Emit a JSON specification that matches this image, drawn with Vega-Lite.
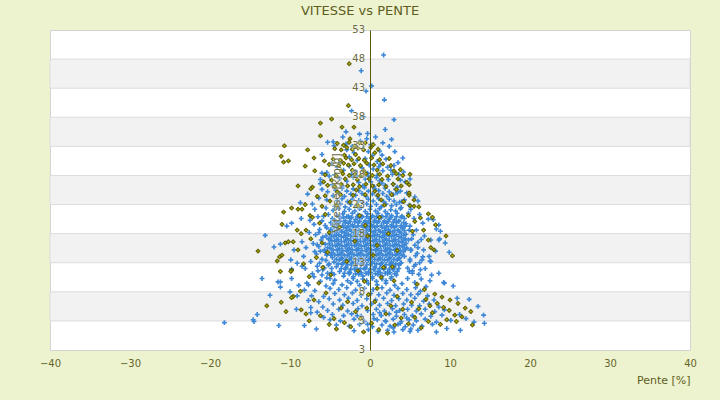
{
  "$schema": "https://vega.github.io/schema/vega-lite/v6.json",
  "width": 640,
  "height": 320,
  "autosize": {"type": "none"},
  "padding": {"left": 50, "top": 30, "right": 30, "bottom": 50},
  "background": "#edf2cf",
  "title": {
    "text": "VITESSE vs PENTE",
    "fontSize": 13,
    "fontWeight": "normal",
    "color": "#5e5e1e",
    "offset": 7,
    "dx": -10
  },
  "datasets": {
    "bandes": [
      {"lo": 3, "hi": 8}, {"lo": 13, "hi": 18}, {"lo": 23, "hi": 28}, {"lo": 33, "hi": 38}, {"lo": 43, "hi": 48}
    ],
    "graduations": [
      {"valeur": -2, "texte": "3"}, {"valeur": 3, "texte": "3"}, {"valeur": 8, "texte": "8"}, {"valeur": 13, "texte": "13"},
      {"valeur": 18, "texte": "18"}, {"valeur": 23, "texte": "23"}, {"valeur": 28, "texte": "28"}, {"valeur": 33, "texte": "33"},
      {"valeur": 38, "texte": "38"}, {"valeur": 43, "texte": "43"}, {"valeur": 48, "texte": "48"}, {"valeur": 53, "texte": "53"}
    ],
    "titreY": [
      {"titre": "Vitesse [km/h]"}
    ],
    "bleu": [
      {"pente":1.7,"vitesse":48.7},{"pente":-1.1,"vitesse":46.0},{"pente":0.2,"vitesse":43.4},{"pente":-0.5,"vitesse":42.5},{"pente":1.8,"vitesse":41.0},{"pente":-2.3,"vitesse":39.1},{"pente":3.0,"vitesse":37.6},{"pente":-0.8,"vitesse":38.1},
      {"pente":-3.0,"vitesse":35.5},{"pente":-1.3,"vitesse":35.1},{"pente":-0.3,"vitesse":35.2},{"pente":0.7,"vitesse":34.6},{"pente":-0.4,"vitesse":34.3},{"pente":1.9,"vitesse":35.9},{"pente":-5.3,"vitesse":33.7},{"pente":-4.6,"vitesse":33.8},{"pente":-4.5,"vitesse":33.1},{"pente":-3.0,"vitesse":33.4},{"pente":-2.2,"vitesse":33.0},{"pente":-2.0,"vitesse":31.9},{"pente":1.2,"vitesse":32.2},{"pente":1.5,"vitesse":31.5},{"pente":0.3,"vitesse":31.4},{"pente":-0.9,"vitesse":32.6},{"pente":2.4,"vitesse":33.0},{"pente":3.1,"vitesse":32.1},{"pente":-1.6,"vitesse":30.6},{"pente":-0.6,"vitesse":30.9},{"pente":0.9,"vitesse":30.4},{"pente":2.0,"vitesse":30.8},{"pente":-3.7,"vitesse":30.3},{"pente":-4.8,"vitesse":30.0},{"pente":-2.6,"vitesse":31.2},{"pente":3.5,"vitesse":30.2},{"pente":-1.2,"vitesse":33.9},{"pente":0.1,"vitesse":33.3},{"pente":1.6,"vitesse":33.6},{"pente":-2.9,"vitesse":32.4},{"pente":2.7,"vitesse":34.2},{"pente":-0.2,"vitesse":32.1},{"pente":-6.0,"vitesse":31.6},{"pente":4.1,"vitesse":31.0},{"pente":-3.4,"vitesse":34.6},
      {"pente":-5.4,"vitesse":28.5},{"pente":-6.0,"vitesse":28.4},{"pente":-6.2,"vitesse":27.3},{"pente":-6.2,"vitesse":26.6},{"pente":2.8,"vitesse":28.2},{"pente":3.6,"vitesse":28.2},{"pente":1.6,"vitesse":28.8},{"pente":1.3,"vitesse":29.9},{"pente":3.8,"vitesse":27.2},{"pente":-4.1,"vitesse":29.4},{"pente":-3.3,"vitesse":28.9},{"pente":-2.6,"vitesse":29.6},{"pente":-1.8,"vitesse":28.7},{"pente":-1.0,"vitesse":29.3},{"pente":-0.3,"vitesse":28.4},{"pente":0.4,"vitesse":29.1},{"pente":0.9,"vitesse":28.0},{"pente":2.2,"vitesse":29.4},{"pente":3.0,"vitesse":29.7},{"pente":-3.8,"vitesse":27.5},{"pente":-2.9,"vitesse":27.0},{"pente":-2.1,"vitesse":27.7},{"pente":-1.4,"vitesse":26.8},{"pente":-0.6,"vitesse":27.4},{"pente":0.1,"vitesse":26.9},{"pente":0.8,"vitesse":27.6},{"pente":1.5,"vitesse":26.7},{"pente":2.3,"vitesse":27.3},{"pente":2.9,"vitesse":26.5},{"pente":4.4,"vitesse":26.9},{"pente":-4.7,"vitesse":26.4},{"pente":-5.1,"vitesse":27.9},{"pente":-3.5,"vitesse":26.2},{"pente":-0.9,"vitesse":26.2},{"pente":0.5,"vitesse":26.1},{"pente":1.9,"vitesse":26.3},{"pente":3.4,"vitesse":26.0},{"pente":-2.3,"vitesse":28.2},{"pente":-0.1,"vitesse":29.8},{"pente":1.1,"vitesse":29.5},{"pente":4.2,"vitesse":28.6},{"pente":-4.4,"vitesse":28.1},{"pente":-1.6,"vitesse":27.9},{"pente":2.6,"vitesse":28.9},{"pente":5.0,"vitesse":27.4},{"pente":-0.2,"vitesse":27.9},{"pente":1.2,"vitesse":27.1},
      {"pente":-7.8,"vitesse":24.8},{"pente":-8.7,"vitesse":23.3},{"pente":-6.9,"vitesse":22.2},{"pente":-5.5,"vitesse":22.4},{"pente":-5.4,"vitesse":23.8},{"pente":-5.3,"vitesse":25.2},{"pente":-6.4,"vitesse":24.1},{"pente":4.6,"vitesse":25.0},{"pente":4.0,"vitesse":23.5},{"pente":5.1,"vitesse":22.2},{"pente":5.6,"vitesse":24.3},{"pente":4.9,"vitesse":22.9},{"pente":6.0,"vitesse":23.6},{"pente":-7.2,"vitesse":23.1},{"pente":-6.0,"vitesse":25.6},
      {"pente":-4.3,"vitesse":25.5},{"pente":-3.5,"vitesse":25.8},{"pente":-2.9,"vitesse":25.3},{"pente":-2.1,"vitesse":25.7},{"pente":-1.4,"vitesse":25.4},{"pente":-0.7,"vitesse":25.9},{"pente":-0.2,"vitesse":25.3},{"pente":0.6,"vitesse":25.7},{"pente":1.1,"vitesse":25.4},{"pente":1.9,"vitesse":25.8},{"pente":2.4,"vitesse":25.2},{"pente":3.2,"vitesse":25.6},{"pente":3.8,"vitesse":25.3},
      {"pente":-4.6,"vitesse":24.5},{"pente":-3.8,"vitesse":24.9},{"pente":-3.2,"vitesse":24.4},{"pente":-2.4,"vitesse":24.8},{"pente":-1.8,"vitesse":24.6},{"pente":-1.0,"vitesse":24.9},{"pente":-0.5,"vitesse":24.4},{"pente":0.3,"vitesse":24.8},{"pente":0.9,"vitesse":24.5},{"pente":1.6,"vitesse":24.9},{"pente":2.1,"vitesse":24.4},{"pente":2.9,"vitesse":24.7},{"pente":3.4,"vitesse":25.0},
      {"pente":-4.1,"vitesse":23.7},{"pente":-3.5,"vitesse":24.0},{"pente":-2.8,"vitesse":23.5},{"pente":-2.2,"vitesse":23.9},{"pente":-1.4,"vitesse":23.7},{"pente":-0.9,"vitesse":23.4},{"pente":-0.2,"vitesse":23.9},{"pente":0.4,"vitesse":23.6},{"pente":1.1,"vitesse":24.0},{"pente":1.7,"vitesse":23.5},{"pente":2.4,"vitesse":23.9},{"pente":3.0,"vitesse":23.6},{"pente":3.7,"vitesse":23.4},{"pente":4.3,"vitesse":23.8},
      {"pente":-4.4,"vitesse":22.7},{"pente":-3.7,"vitesse":23.1},{"pente":-3.1,"vitesse":22.6},{"pente":-2.4,"vitesse":23.0},{"pente":-1.7,"vitesse":22.8},{"pente":-1.1,"vitesse":22.5},{"pente":-0.4,"vitesse":23.1},{"pente":0.1,"vitesse":22.7},{"pente":0.8,"vitesse":23.0},{"pente":1.4,"vitesse":22.6},{"pente":2.0,"vitesse":23.1},{"pente":2.7,"vitesse":22.8},{"pente":3.3,"vitesse":23.0},{"pente":3.9,"vitesse":22.5},
      {"pente":-4.6,"vitesse":22.0},{"pente":-3.9,"vitesse":22.3},{"pente":-3.2,"vitesse":21.8},{"pente":-2.6,"vitesse":22.2},{"pente":-1.9,"vitesse":21.9},{"pente":-1.3,"vitesse":22.3},{"pente":-0.6,"vitesse":21.8},{"pente":0.0,"vitesse":22.2},{"pente":0.7,"vitesse":21.9},{"pente":1.2,"vitesse":22.3},{"pente":1.9,"vitesse":21.8},{"pente":2.6,"vitesse":22.1},{"pente":3.2,"vitesse":21.9},{"pente":3.8,"vitesse":22.3},
      {"pente":-4.1,"vitesse":21.1},{"pente":-3.4,"vitesse":21.4},{"pente":-2.7,"vitesse":21.0},{"pente":-2.2,"vitesse":21.5},{"pente":-1.5,"vitesse":21.2},{"pente":-1.0,"vitesse":21.0},{"pente":-0.3,"vitesse":21.4},{"pente":0.3,"vitesse":21.1},{"pente":1.0,"vitesse":21.5},{"pente":1.5,"vitesse":21.0},{"pente":2.2,"vitesse":21.4},{"pente":2.7,"vitesse":21.1},{"pente":3.4,"vitesse":21.5},{"pente":4.0,"vitesse":21.0},
      {"pente":-3.9,"vitesse":20.9},{"pente":-3.3,"vitesse":20.8},{"pente":-2.9,"vitesse":20.9},{"pente":-2.3,"vitesse":20.8},{"pente":-1.6,"vitesse":20.9},{"pente":-1.0,"vitesse":20.8},{"pente":-0.4,"vitesse":20.9},{"pente":0.2,"vitesse":20.8},{"pente":0.8,"vitesse":20.9},{"pente":1.4,"vitesse":20.8},{"pente":2.0,"vitesse":20.9},{"pente":2.6,"vitesse":20.8},{"pente":3.3,"vitesse":20.9},{"pente":3.9,"vitesse":20.8},
      {"pente":-4.4,"vitesse":20.3},{"pente":-3.7,"vitesse":20.7},{"pente":-3.1,"vitesse":20.2},{"pente":-2.5,"vitesse":20.6},{"pente":-1.8,"vitesse":20.4},{"pente":-1.3,"vitesse":20.7},{"pente":-0.6,"vitesse":20.2},{"pente":-0.1,"vitesse":20.6},{"pente":0.6,"vitesse":20.3},{"pente":1.1,"vitesse":20.7},{"pente":1.8,"vitesse":20.2},{"pente":2.4,"vitesse":20.5},{"pente":3.1,"vitesse":20.4},{"pente":3.6,"vitesse":20.2},{"pente":4.3,"vitesse":20.6},
      {"pente":-4.3,"vitesse":20.0},{"pente":-3.7,"vitesse":20.1},{"pente":-3.1,"vitesse":19.9},{"pente":-2.5,"vitesse":20.1},{"pente":-1.9,"vitesse":20.0},{"pente":-1.3,"vitesse":20.1},{"pente":-0.7,"vitesse":19.9},{"pente":-0.1,"vitesse":20.1},{"pente":0.5,"vitesse":20.0},{"pente":1.1,"vitesse":20.1},{"pente":1.7,"vitesse":19.9},{"pente":2.3,"vitesse":20.1},{"pente":2.9,"vitesse":20.0},{"pente":3.6,"vitesse":20.1},{"pente":4.2,"vitesse":19.9},
      {"pente":-4.7,"vitesse":19.5},{"pente":-4.0,"vitesse":19.9},{"pente":-3.4,"vitesse":19.4},{"pente":-2.7,"vitesse":19.8},{"pente":-2.2,"vitesse":19.5},{"pente":-1.5,"vitesse":19.9},{"pente":-1.0,"vitesse":19.4},{"pente":-0.3,"vitesse":19.8},{"pente":0.2,"vitesse":19.5},{"pente":0.9,"vitesse":19.9},{"pente":1.4,"vitesse":19.4},{"pente":2.1,"vitesse":19.8},{"pente":2.7,"vitesse":19.5},{"pente":3.3,"vitesse":19.9},{"pente":3.9,"vitesse":19.4},{"pente":4.5,"vitesse":19.7},
      {"pente":-4.5,"vitesse":19.2},{"pente":-3.9,"vitesse":19.3},{"pente":-3.3,"vitesse":19.1},{"pente":-2.7,"vitesse":19.3},{"pente":-2.1,"vitesse":19.2},{"pente":-1.5,"vitesse":19.3},{"pente":-0.9,"vitesse":19.1},{"pente":-0.3,"vitesse":19.3},{"pente":0.3,"vitesse":19.2},{"pente":0.9,"vitesse":19.3},{"pente":1.5,"vitesse":19.1},{"pente":2.1,"vitesse":19.3},{"pente":2.7,"vitesse":19.2},{"pente":3.3,"vitesse":19.3},{"pente":3.9,"vitesse":19.1},{"pente":4.4,"vitesse":19.3},
      {"pente":-4.9,"vitesse":18.7},{"pente":-4.2,"vitesse":19.1},{"pente":-3.7,"vitesse":18.6},{"pente":-3.0,"vitesse":19.0},{"pente":-2.5,"vitesse":18.7},{"pente":-1.8,"vitesse":19.1},{"pente":-1.3,"vitesse":18.6},{"pente":-0.6,"vitesse":19.0},{"pente":-0.1,"vitesse":18.7},{"pente":0.6,"vitesse":19.1},{"pente":1.1,"vitesse":18.6},{"pente":1.8,"vitesse":19.0},{"pente":2.3,"vitesse":18.7},{"pente":3.0,"vitesse":19.1},{"pente":3.5,"vitesse":18.6},{"pente":4.1,"vitesse":18.9},
      {"pente":-4.7,"vitesse":18.4},{"pente":-4.1,"vitesse":18.5},{"pente":-3.5,"vitesse":18.3},{"pente":-2.9,"vitesse":18.5},{"pente":-2.3,"vitesse":18.4},{"pente":-1.7,"vitesse":18.5},{"pente":-1.1,"vitesse":18.3},{"pente":-0.5,"vitesse":18.5},{"pente":0.1,"vitesse":18.4},{"pente":0.7,"vitesse":18.5},{"pente":1.3,"vitesse":18.3},{"pente":1.9,"vitesse":18.5},{"pente":2.5,"vitesse":18.4},{"pente":3.1,"vitesse":18.5},{"pente":3.7,"vitesse":18.3},{"pente":4.3,"vitesse":18.5},
      {"pente":-5.0,"vitesse":17.9},{"pente":-4.4,"vitesse":18.3},{"pente":-3.9,"vitesse":17.8},{"pente":-3.2,"vitesse":18.2},{"pente":-2.7,"vitesse":17.9},{"pente":-2.0,"vitesse":18.3},{"pente":-1.5,"vitesse":17.8},{"pente":-0.8,"vitesse":18.2},{"pente":-0.3,"vitesse":17.9},{"pente":0.4,"vitesse":18.3},{"pente":0.9,"vitesse":17.8},{"pente":1.6,"vitesse":18.2},{"pente":2.1,"vitesse":17.9},{"pente":2.8,"vitesse":18.3},{"pente":3.3,"vitesse":17.8},{"pente":3.9,"vitesse":18.1},{"pente":4.5,"vitesse":17.9},
      {"pente":-4.8,"vitesse":17.6},{"pente":-4.2,"vitesse":17.7},{"pente":-3.6,"vitesse":17.5},{"pente":-3.0,"vitesse":17.7},{"pente":-2.4,"vitesse":17.6},{"pente":-1.8,"vitesse":17.7},{"pente":-1.2,"vitesse":17.5},{"pente":-0.6,"vitesse":17.7},{"pente":0.0,"vitesse":17.6},{"pente":0.6,"vitesse":17.7},{"pente":1.2,"vitesse":17.5},{"pente":1.8,"vitesse":17.7},{"pente":2.4,"vitesse":17.6},{"pente":3.0,"vitesse":17.7},{"pente":3.6,"vitesse":17.5},{"pente":4.2,"vitesse":17.7},
      {"pente":-5.2,"vitesse":17.1},{"pente":-4.5,"vitesse":17.5},{"pente":-4.0,"vitesse":17.0},{"pente":-3.3,"vitesse":17.4},{"pente":-2.8,"vitesse":17.1},{"pente":-2.1,"vitesse":17.5},{"pente":-1.6,"vitesse":17.0},{"pente":-0.9,"vitesse":17.4},{"pente":-0.4,"vitesse":17.1},{"pente":0.3,"vitesse":17.5},{"pente":0.8,"vitesse":17.0},{"pente":1.5,"vitesse":17.4},{"pente":2.0,"vitesse":17.1},{"pente":2.7,"vitesse":17.5},{"pente":3.2,"vitesse":17.0},{"pente":3.9,"vitesse":17.3},{"pente":4.4,"vitesse":17.1},
      {"pente":-4.8,"vitesse":16.8},{"pente":-4.2,"vitesse":16.9},{"pente":-3.6,"vitesse":16.7},{"pente":-3.0,"vitesse":16.9},{"pente":-2.4,"vitesse":16.8},{"pente":-1.8,"vitesse":16.9},{"pente":-1.2,"vitesse":16.7},{"pente":-0.6,"vitesse":16.9},{"pente":0.0,"vitesse":16.8},{"pente":0.6,"vitesse":16.9},{"pente":1.2,"vitesse":16.7},{"pente":1.8,"vitesse":16.9},{"pente":2.4,"vitesse":16.8},{"pente":3.0,"vitesse":16.9},{"pente":3.6,"vitesse":16.7},{"pente":4.2,"vitesse":16.9},
      {"pente":-5.1,"vitesse":16.3},{"pente":-4.4,"vitesse":16.7},{"pente":-3.9,"vitesse":16.2},{"pente":-3.2,"vitesse":16.6},{"pente":-2.7,"vitesse":16.3},{"pente":-2.0,"vitesse":16.7},{"pente":-1.5,"vitesse":16.2},{"pente":-0.8,"vitesse":16.6},{"pente":-0.3,"vitesse":16.3},{"pente":0.4,"vitesse":16.7},{"pente":0.9,"vitesse":16.2},{"pente":1.6,"vitesse":16.6},{"pente":2.1,"vitesse":16.3},{"pente":2.8,"vitesse":16.7},{"pente":3.3,"vitesse":16.2},{"pente":4.0,"vitesse":16.5},{"pente":4.5,"vitesse":16.3},
      {"pente":-4.7,"vitesse":16.0},{"pente":-4.1,"vitesse":16.1},{"pente":-3.5,"vitesse":15.9},{"pente":-2.9,"vitesse":16.1},{"pente":-2.3,"vitesse":16.0},{"pente":-1.7,"vitesse":16.1},{"pente":-1.1,"vitesse":15.9},{"pente":-0.5,"vitesse":16.1},{"pente":0.1,"vitesse":16.0},{"pente":0.7,"vitesse":16.1},{"pente":1.3,"vitesse":15.9},{"pente":1.9,"vitesse":16.1},{"pente":2.5,"vitesse":16.0},{"pente":3.1,"vitesse":16.1},{"pente":3.7,"vitesse":15.9},{"pente":4.3,"vitesse":16.1},
      {"pente":-5.0,"vitesse":15.5},{"pente":-4.3,"vitesse":15.9},{"pente":-3.8,"vitesse":15.4},{"pente":-3.1,"vitesse":15.8},{"pente":-2.6,"vitesse":15.5},{"pente":-1.9,"vitesse":15.9},{"pente":-1.4,"vitesse":15.4},{"pente":-0.7,"vitesse":15.8},{"pente":-0.2,"vitesse":15.5},{"pente":0.5,"vitesse":15.9},{"pente":1.0,"vitesse":15.4},{"pente":1.7,"vitesse":15.8},{"pente":2.2,"vitesse":15.5},{"pente":2.9,"vitesse":15.9},{"pente":3.4,"vitesse":15.4},{"pente":4.1,"vitesse":15.7},{"pente":4.6,"vitesse":15.5},
      {"pente":-4.6,"vitesse":15.2},{"pente":-4.0,"vitesse":15.3},{"pente":-3.4,"vitesse":15.1},{"pente":-2.8,"vitesse":15.3},{"pente":-2.2,"vitesse":15.2},{"pente":-1.6,"vitesse":15.3},{"pente":-1.0,"vitesse":15.1},{"pente":-0.4,"vitesse":15.3},{"pente":0.2,"vitesse":15.2},{"pente":0.8,"vitesse":15.3},{"pente":1.4,"vitesse":15.1},{"pente":2.0,"vitesse":15.3},{"pente":2.6,"vitesse":15.2},{"pente":3.2,"vitesse":15.3},{"pente":3.8,"vitesse":15.1},{"pente":4.4,"vitesse":15.3},
      {"pente":-4.8,"vitesse":14.7},{"pente":-4.1,"vitesse":15.1},{"pente":-3.6,"vitesse":14.6},{"pente":-2.9,"vitesse":15.0},{"pente":-2.4,"vitesse":14.7},{"pente":-1.7,"vitesse":15.1},{"pente":-1.2,"vitesse":14.6},{"pente":-0.5,"vitesse":15.0},{"pente":0.0,"vitesse":14.7},{"pente":0.7,"vitesse":15.1},{"pente":1.2,"vitesse":14.6},{"pente":1.9,"vitesse":15.0},{"pente":2.4,"vitesse":14.7},{"pente":3.1,"vitesse":15.1},{"pente":3.6,"vitesse":14.6},{"pente":4.2,"vitesse":14.9},
      {"pente":-4.4,"vitesse":14.4},{"pente":-3.8,"vitesse":14.5},{"pente":-3.2,"vitesse":14.3},{"pente":-2.6,"vitesse":14.5},{"pente":-2.0,"vitesse":14.4},{"pente":-1.4,"vitesse":14.5},{"pente":-0.8,"vitesse":14.3},{"pente":-0.2,"vitesse":14.5},{"pente":0.4,"vitesse":14.4},{"pente":1.0,"vitesse":14.5},{"pente":1.6,"vitesse":14.3},{"pente":2.2,"vitesse":14.5},{"pente":2.8,"vitesse":14.4},{"pente":3.4,"vitesse":14.5},{"pente":4.0,"vitesse":14.3},
      {"pente":-4.7,"vitesse":13.9},{"pente":-4.0,"vitesse":14.3},{"pente":-3.5,"vitesse":13.8},{"pente":-2.8,"vitesse":14.2},{"pente":-2.3,"vitesse":13.9},{"pente":-1.6,"vitesse":14.3},{"pente":-1.1,"vitesse":13.8},{"pente":-0.4,"vitesse":14.2},{"pente":0.1,"vitesse":13.9},{"pente":0.8,"vitesse":14.3},{"pente":1.3,"vitesse":13.8},{"pente":2.0,"vitesse":14.2},{"pente":2.5,"vitesse":13.9},{"pente":3.2,"vitesse":14.3},{"pente":3.7,"vitesse":13.8},{"pente":4.3,"vitesse":14.1},
      {"pente":-4.2,"vitesse":13.6},{"pente":-3.6,"vitesse":13.7},{"pente":-3.0,"vitesse":13.5},{"pente":-2.4,"vitesse":13.7},{"pente":-1.8,"vitesse":13.6},{"pente":-1.2,"vitesse":13.7},{"pente":-0.6,"vitesse":13.5},{"pente":0.0,"vitesse":13.7},{"pente":0.6,"vitesse":13.6},{"pente":1.2,"vitesse":13.7},{"pente":1.8,"vitesse":13.5},{"pente":2.4,"vitesse":13.7},{"pente":3.0,"vitesse":13.6},{"pente":3.6,"vitesse":13.7},
      {"pente":-4.5,"vitesse":13.1},{"pente":-3.8,"vitesse":13.5},{"pente":-3.3,"vitesse":13.0},{"pente":-2.6,"vitesse":13.4},{"pente":-2.1,"vitesse":13.1},{"pente":-1.4,"vitesse":13.5},{"pente":-0.9,"vitesse":13.0},{"pente":-0.2,"vitesse":13.4},{"pente":0.3,"vitesse":13.1},{"pente":1.0,"vitesse":13.5},{"pente":1.5,"vitesse":13.0},{"pente":2.2,"vitesse":13.4},{"pente":2.7,"vitesse":13.1},{"pente":3.4,"vitesse":13.5},{"pente":3.9,"vitesse":13.0},
      {"pente":-4.0,"vitesse":12.8},{"pente":-3.4,"vitesse":12.9},{"pente":-2.8,"vitesse":12.7},{"pente":-2.2,"vitesse":12.9},{"pente":-1.6,"vitesse":12.8},{"pente":-1.0,"vitesse":12.9},{"pente":-0.4,"vitesse":12.7},{"pente":0.2,"vitesse":12.9},{"pente":0.8,"vitesse":12.8},{"pente":1.4,"vitesse":12.9},{"pente":2.0,"vitesse":12.7},{"pente":2.6,"vitesse":12.9},{"pente":3.2,"vitesse":12.8},{"pente":3.8,"vitesse":12.9},
      {"pente":-4.2,"vitesse":12.3},{"pente":-3.5,"vitesse":12.7},{"pente":-3.0,"vitesse":12.2},{"pente":-2.3,"vitesse":12.6},{"pente":-1.8,"vitesse":12.3},{"pente":-1.1,"vitesse":12.7},{"pente":-0.6,"vitesse":12.2},{"pente":0.1,"vitesse":12.6},{"pente":0.6,"vitesse":12.3},{"pente":1.3,"vitesse":12.7},{"pente":1.8,"vitesse":12.2},{"pente":2.5,"vitesse":12.6},{"pente":3.0,"vitesse":12.3},{"pente":3.6,"vitesse":12.6},
      {"pente":-3.6,"vitesse":12.0},{"pente":-3.0,"vitesse":12.1},{"pente":-2.4,"vitesse":11.9},{"pente":-1.8,"vitesse":12.1},{"pente":-1.2,"vitesse":12.0},{"pente":-0.6,"vitesse":12.1},{"pente":0.0,"vitesse":11.9},{"pente":0.6,"vitesse":12.1},{"pente":1.2,"vitesse":12.0},{"pente":1.8,"vitesse":12.1},{"pente":2.4,"vitesse":11.9},{"pente":3.0,"vitesse":12.1},{"pente":3.6,"vitesse":12.0},
      {"pente":-3.8,"vitesse":11.5},{"pente":-3.1,"vitesse":11.9},{"pente":-2.6,"vitesse":11.4},{"pente":-1.9,"vitesse":11.8},{"pente":-1.4,"vitesse":11.5},{"pente":-0.7,"vitesse":11.9},{"pente":-0.2,"vitesse":11.4},{"pente":0.5,"vitesse":11.8},{"pente":1.0,"vitesse":11.5},{"pente":1.7,"vitesse":11.9},{"pente":2.2,"vitesse":11.4},{"pente":2.9,"vitesse":11.8},{"pente":3.4,"vitesse":11.5},
      {"pente":-3.2,"vitesse":11.2},{"pente":-2.5,"vitesse":11.3},{"pente":-1.8,"vitesse":11.1},{"pente":-1.1,"vitesse":11.3},{"pente":-0.5,"vitesse":11.2},{"pente":0.1,"vitesse":11.3},{"pente":0.7,"vitesse":11.1},{"pente":1.3,"vitesse":11.3},{"pente":1.9,"vitesse":11.2},{"pente":2.5,"vitesse":11.3},{"pente":3.1,"vitesse":11.1},
      {"pente":-3.3,"vitesse":10.7},{"pente":-2.6,"vitesse":11.1},{"pente":-2.1,"vitesse":10.6},{"pente":-1.4,"vitesse":11.0},{"pente":-0.9,"vitesse":10.7},{"pente":-0.2,"vitesse":11.1},{"pente":0.3,"vitesse":10.6},{"pente":1.0,"vitesse":11.0},{"pente":1.5,"vitesse":10.7},{"pente":2.2,"vitesse":11.1},{"pente":2.7,"vitesse":10.6},{"pente":3.3,"vitesse":10.9},
      {"pente":-2.8,"vitesse":9.9},{"pente":-2.1,"vitesse":10.3},{"pente":-1.6,"vitesse":9.8},{"pente":-0.9,"vitesse":10.2},{"pente":-0.4,"vitesse":9.9},{"pente":0.3,"vitesse":10.3},{"pente":0.8,"vitesse":9.8},{"pente":1.5,"vitesse":10.2},{"pente":2.0,"vitesse":9.9},{"pente":2.6,"vitesse":10.3},
      {"pente":-5.8,"vitesse":21.0},{"pente":-6.5,"vitesse":20.9},{"pente":-7.5,"vitesse":20.3},{"pente":-5.6,"vitesse":19.4},{"pente":-6.3,"vitesse":18.7},{"pente":-7.0,"vitesse":19.6},{"pente":-5.5,"vitesse":17.6},{"pente":-6.1,"vitesse":16.9},{"pente":-6.8,"vitesse":17.8},{"pente":-7.6,"vitesse":18.2},{"pente":-5.7,"vitesse":15.2},{"pente":-6.4,"vitesse":15.8},{"pente":-7.1,"vitesse":16.3},{"pente":-8.0,"vitesse":15.6},{"pente":-5.4,"vitesse":14.3},{"pente":-6.0,"vitesse":13.6},{"pente":-6.7,"vitesse":14.5},{"pente":-7.4,"vitesse":13.2},{"pente":-8.3,"vitesse":14.1},{"pente":-5.2,"vitesse":12.6},{"pente":-5.9,"vitesse":11.8},{"pente":-6.6,"vitesse":12.4},{"pente":-7.2,"vitesse":11.1},{"pente":-8.1,"vitesse":12.0},{"pente":-4.8,"vitesse":11.3},{"pente":-5.4,"vitesse":10.4},{"pente":-6.2,"vitesse":9.8},{"pente":-7.0,"vitesse":10.6},{"pente":-7.9,"vitesse":9.5},{"pente":-4.4,"vitesse":10.0},{"pente":-8.5,"vitesse":16.6},{"pente":-9.5,"vitesse":15.2},{"pente":-9.9,"vitesse":13.5},{"pente":-10.4,"vitesse":19.3},{"pente":-9.8,"vitesse":19.8},{"pente":-8.6,"vitesse":20.6},{"pente":-9.1,"vitesse":12.9},{"pente":-8.9,"vitesse":9.1},{"pente":-9.8,"vitesse":10.3},{"pente":-9.8,"vitesse":11.9},{"pente":-10.0,"vitesse":8.0},{"pente":-9.1,"vitesse":7.3},{"pente":-7.7,"vitesse":6.5},{"pente":-8.2,"vitesse":8.3},{"pente":-6.9,"vitesse":8.2},{"pente":-7.3,"vitesse":7.3},{"pente":-8.5,"vitesse":12.4},{"pente":-7.7,"vitesse":9.2},
      {"pente":-18.2,"vitesse":2.7},{"pente":-14.6,"vitesse":3.2},{"pente":-14.5,"vitesse":2.9},{"pente":-14.1,"vitesse":4.1},{"pente":-11.4,"vitesse":2.2},{"pente":-13.5,"vitesse":10.3},{"pente":-12.5,"vitesse":7.4},{"pente":-11.5,"vitesse":9.7},{"pente":-11.2,"vitesse":9.7},{"pente":-11.2,"vitesse":8.8},{"pente":-12.0,"vitesse":15.7},{"pente":-11.2,"vitesse":16.2},{"pente":-13.1,"vitesse":17.7},{"pente":-9.2,"vitesse":5.0},{"pente":-8.2,"vitesse":2.2},{"pente":-6.7,"vitesse":1.6},{"pente":-7.4,"vitesse":4.4},{"pente":-7.4,"vitesse":5.3},
      {"pente":-4.9,"vitesse":19.9},{"pente":-5.4,"vitesse":19.0},{"pente":-5.0,"vitesse":17.0},{"pente":-5.6,"vitesse":16.2},{"pente":-5.3,"vitesse":15.6},{"pente":-4.9,"vitesse":14.3},{"pente":-5.5,"vitesse":13.4},{"pente":-5.1,"vitesse":12.8},{"pente":-5.7,"vitesse":12.1},{"pente":-4.8,"vitesse":12.0},{"pente":-5.3,"vitesse":11.2},{"pente":-6.0,"vitesse":10.9},{"pente":-5.6,"vitesse":14.8},{"pente":-6.2,"vitesse":15.0},{"pente":-5.9,"vitesse":17.4},{"pente":-6.4,"vitesse":18.2},{"pente":-6.0,"vitesse":20.2},{"pente":-5.2,"vitesse":21.3},{"pente":-4.7,"vitesse":20.6},{"pente":-6.6,"vitesse":16.1},{"pente":-6.9,"vitesse":14.9},{"pente":-6.3,"vitesse":12.9},{"pente":-4.5,"vitesse":11.0},{"pente":-5.0,"vitesse":10.3},{"pente":-6.5,"vitesse":11.6},
      {"pente":4.8,"vitesse":21.5},{"pente":5.5,"vitesse":20.6},{"pente":6.2,"vitesse":21.3},{"pente":5.0,"vitesse":19.3},{"pente":5.8,"vitesse":18.6},{"pente":6.6,"vitesse":19.8},{"pente":7.3,"vitesse":20.5},{"pente":5.2,"vitesse":17.1},{"pente":6.0,"vitesse":16.5},{"pente":6.8,"vitesse":17.6},{"pente":7.6,"vitesse":16.9},{"pente":8.7,"vitesse":17.1},{"pente":8.6,"vitesse":16.9},{"pente":9.4,"vitesse":16.4},{"pente":8.8,"vitesse":18.4},{"pente":9.9,"vitesse":14.8},{"pente":5.1,"vitesse":15.3},{"pente":5.9,"vitesse":14.6},{"pente":6.7,"vitesse":15.2},{"pente":7.4,"vitesse":14.1},{"pente":8.2,"vitesse":15.0},{"pente":5.0,"vitesse":13.3},{"pente":5.7,"vitesse":12.7},{"pente":6.5,"vitesse":13.5},{"pente":7.5,"vitesse":13.3},{"pente":8.6,"vitesse":11.2},{"pente":5.3,"vitesse":11.6},{"pente":6.1,"vitesse":11.0},{"pente":6.9,"vitesse":12.0},{"pente":7.7,"vitesse":10.9},{"pente":9.3,"vitesse":9.5},{"pente":10.4,"vitesse":9.0},{"pente":7.5,"vitesse":9.9},{"pente":4.7,"vitesse":10.3},{"pente":5.6,"vitesse":9.6},{"pente":6.4,"vitesse":10.2},{"pente":7.0,"vitesse":8.9},{"pente":8.3,"vitesse":18.8},{"pente":8.6,"vitesse":19.5},{"pente":7.9,"vitesse":20.4},
      {"pente":4.9,"vitesse":18.6},{"pente":5.4,"vitesse":17.8},{"pente":4.8,"vitesse":16.9},{"pente":5.6,"vitesse":16.0},{"pente":5.1,"vitesse":15.1},{"pente":5.7,"vitesse":14.2},{"pente":5.0,"vitesse":13.6},{"pente":5.5,"vitesse":12.4},{"pente":4.7,"vitesse":12.1},{"pente":6.2,"vitesse":13.0},{"pente":6.0,"vitesse":15.6},{"pente":6.4,"vitesse":17.0},{"pente":5.3,"vitesse":11.2},{"pente":6.3,"vitesse":11.8},{"pente":4.9,"vitesse":11.5},{"pente":6.6,"vitesse":14.0},
      {"pente":-4.6,"vitesse":9.4},{"pente":-3.5,"vitesse":9.2},{"pente":-2.4,"vitesse":9.5},{"pente":-1.3,"vitesse":9.1},{"pente":-0.2,"vitesse":9.4},{"pente":0.9,"vitesse":9.2},{"pente":2.0,"vitesse":9.5},{"pente":3.1,"vitesse":9.1},{"pente":4.0,"vitesse":9.4},{"pente":-5.5,"vitesse":9.0},
      {"pente":-5.0,"vitesse":8.6},{"pente":-3.9,"vitesse":8.4},{"pente":-2.9,"vitesse":8.7},{"pente":-1.8,"vitesse":8.3},{"pente":-0.7,"vitesse":8.6},{"pente":0.4,"vitesse":8.4},{"pente":1.5,"vitesse":8.7},{"pente":2.5,"vitesse":8.3},{"pente":3.5,"vitesse":8.6},{"pente":4.6,"vitesse":8.4},{"pente":5.7,"vitesse":8.7},{"pente":6.3,"vitesse":8.1},
      {"pente":-4.4,"vitesse":7.7},{"pente":-3.2,"vitesse":7.5},{"pente":-2.2,"vitesse":7.8},{"pente":-1.1,"vitesse":7.4},{"pente":0.1,"vitesse":7.7},{"pente":1.1,"vitesse":7.5},{"pente":2.1,"vitesse":7.8},{"pente":3.0,"vitesse":7.4},{"pente":4.1,"vitesse":7.7},{"pente":5.1,"vitesse":7.5},{"pente":6.0,"vitesse":7.6},{"pente":7.2,"vitesse":7.3},{"pente":-5.8,"vitesse":7.2},
      {"pente":-5.1,"vitesse":6.8},{"pente":-3.8,"vitesse":6.6},{"pente":-2.7,"vitesse":6.9},{"pente":-1.6,"vitesse":6.5},{"pente":-0.4,"vitesse":6.8},{"pente":0.7,"vitesse":6.6},{"pente":1.7,"vitesse":6.9},{"pente":2.7,"vitesse":6.5},{"pente":3.6,"vitesse":6.8},{"pente":4.6,"vitesse":6.6},{"pente":5.6,"vitesse":6.9},{"pente":6.7,"vitesse":6.4},{"pente":8.0,"vitesse":6.6},{"pente":-6.4,"vitesse":6.3},
      {"pente":-4.6,"vitesse":5.9},{"pente":-3.4,"vitesse":5.7},{"pente":-2.1,"vitesse":6.0},{"pente":-1.0,"vitesse":5.6},{"pente":0.2,"vitesse":5.9},{"pente":1.2,"vitesse":5.7},{"pente":2.2,"vitesse":6.0},{"pente":3.2,"vitesse":5.6},{"pente":4.2,"vitesse":5.9},{"pente":5.2,"vitesse":5.7},{"pente":6.2,"vitesse":5.6},{"pente":7.4,"vitesse":5.9},{"pente":8.6,"vitesse":5.4},{"pente":-5.9,"vitesse":5.4},
      {"pente":-5.3,"vitesse":4.8},{"pente":-3.9,"vitesse":5.0},{"pente":-2.8,"vitesse":4.7},{"pente":-1.5,"vitesse":5.1},{"pente":-0.3,"vitesse":4.8},{"pente":0.8,"vitesse":5.0},{"pente":1.8,"vitesse":4.7},{"pente":2.8,"vitesse":5.1},{"pente":3.7,"vitesse":4.8},{"pente":4.7,"vitesse":5.0},{"pente":5.8,"vitesse":4.7},{"pente":6.9,"vitesse":5.0},{"pente":8.1,"vitesse":4.6},{"pente":9.3,"vitesse":4.9},{"pente":-6.6,"vitesse":4.5},
      {"pente":-4.7,"vitesse":4.1},{"pente":-3.3,"vitesse":3.9},{"pente":-2.3,"vitesse":4.2},{"pente":-1.1,"vitesse":3.8},{"pente":0.4,"vitesse":4.1},{"pente":1.4,"vitesse":3.9},{"pente":2.4,"vitesse":4.2},{"pente":3.3,"vitesse":3.8},{"pente":4.3,"vitesse":4.1},{"pente":5.3,"vitesse":3.9},{"pente":6.4,"vitesse":4.2},{"pente":7.6,"vitesse":3.8},{"pente":9.0,"vitesse":4.0},{"pente":11.2,"vitesse":4.1},{"pente":-5.8,"vitesse":3.6},
      {"pente":-5.0,"vitesse":3.2},{"pente":-3.7,"vitesse":3.0},{"pente":-2.0,"vitesse":3.3},{"pente":-0.7,"vitesse":2.9},{"pente":0.9,"vitesse":3.2},{"pente":1.9,"vitesse":3.0},{"pente":2.9,"vitesse":3.3},{"pente":3.9,"vitesse":2.9},{"pente":4.9,"vitesse":3.2},{"pente":5.8,"vitesse":3.0},{"pente":6.9,"vitesse":3.3},{"pente":8.3,"vitesse":2.8},{"pente":10.1,"vitesse":3.1},{"pente":13.0,"vitesse":2.8},
      {"pente":-4.2,"vitesse":2.3},{"pente":-2.6,"vitesse":2.1},{"pente":-1.3,"vitesse":2.4},{"pente":0.3,"vitesse":2.0},{"pente":1.5,"vitesse":2.3},{"pente":2.5,"vitesse":2.1},{"pente":3.5,"vitesse":2.4},{"pente":4.4,"vitesse":2.0},{"pente":5.4,"vitesse":2.3},{"pente":6.5,"vitesse":2.1},{"pente":7.8,"vitesse":2.4},{"pente":9.6,"vitesse":1.7},{"pente":11.3,"vitesse":1.4},{"pente":8.3,"vitesse":1.1},
      {"pente":-2.0,"vitesse":1.3},{"pente":-0.2,"vitesse":1.5},{"pente":1.0,"vitesse":1.2},{"pente":2.2,"vitesse":1.4},{"pente":3.0,"vitesse":1.1},{"pente":4.1,"vitesse":1.5},{"pente":5.0,"vitesse":1.2},{"pente":6.0,"vitesse":1.4},
      {"pente":2.9,"vitesse":1.8},{"pente":3.8,"vitesse":2.6},{"pente":4.6,"vitesse":3.5},{"pente":5.1,"vitesse":1.6},{"pente":3.3,"vitesse":4.5},{"pente":2.0,"vitesse":2.9},{"pente":1.2,"vitesse":4.4},{"pente":0.5,"vitesse":3.4},{"pente":-0.3,"vitesse":2.4},{"pente":-1.6,"vitesse":3.9},
      {"pente":14.2,"vitesse":4.0},{"pente":14.3,"vitesse":2.6},{"pente":13.5,"vitesse":5.5},{"pente":12.4,"vitesse":6.7},{"pente":9.2,"vitesse":9.6},{"pente":7.6,"vitesse":13.2},{"pente":10.9,"vitesse":6.9},{"pente":12.0,"vitesse":3.4}
    ],
    "olive": [
      {"pente":-2.6,"vitesse":47.2},{"pente":-2.7,"vitesse":40.0},{"pente":-4.8,"vitesse":37.7},{"pente":-3.5,"vitesse":36.3},{"pente":-2.0,"vitesse":36.3},{"pente":-6.2,"vitesse":37.0},{"pente":-2.5,"vitesse":34.3},{"pente":-1.3,"vitesse":33.6},{"pente":-6.2,"vitesse":34.8},{"pente":-10.7,"vitesse":33.1},{"pente":-11.1,"vitesse":31.3},{"pente":-10.8,"vitesse":30.3},{"pente":-10.2,"vitesse":30.5},{"pente":-7.8,"vitesse":32.4},{"pente":-9.0,"vitesse":26.2},{"pente":-7.2,"vitesse":26.0},{"pente":-10.8,"vitesse":21.7},{"pente":-9.8,"vitesse":22.4},{"pente":-9.0,"vitesse":22.2},{"pente":-8.1,"vitesse":23.0},{"pente":-8.5,"vitesse":22.2},{"pente":-11.0,"vitesse":19.6},{"pente":-8.0,"vitesse":18.6},{"pente":-7.5,"vitesse":21.1},{"pente":-14.0,"vitesse":15.0},{"pente":-11.3,"vitesse":14.0},{"pente":-11.0,"vitesse":14.3},{"pente":-11.2,"vitesse":11.5},{"pente":-9.6,"vitesse":16.6},{"pente":-9.0,"vitesse":15.2},{"pente":-10.2,"vitesse":16.6},{"pente":-9.8,"vitesse":11.7},{"pente":-9.6,"vitesse":7.2},{"pente":-10.5,"vitesse":4.6},{"pente":-8.0,"vitesse":4.2},{"pente":-8.6,"vitesse":18.0},
      {"pente":-4.1,"vitesse":33.5},{"pente":-3.3,"vitesse":33.2},{"pente":-2.6,"vitesse":33.7},{"pente":-1.9,"vitesse":33.1},{"pente":-0.6,"vitesse":33.6},{"pente":0.4,"vitesse":33.3},
      {"pente":-4.4,"vitesse":32.6},{"pente":-3.6,"vitesse":32.4},{"pente":-2.9,"vitesse":32.8},{"pente":-2.2,"vitesse":32.5},{"pente":-1.5,"vitesse":32.7},{"pente":-0.8,"vitesse":32.4},{"pente":0.1,"vitesse":32.8},{"pente":1.0,"vitesse":32.5},
      {"pente":-3.2,"vitesse":31.5},{"pente":-1.8,"vitesse":31.6},{"pente":0.6,"vitesse":31.9},
      {"pente":-4.6,"vitesse":30.8},{"pente":-3.7,"vitesse":30.6},{"pente":-3.0,"vitesse":31.0},{"pente":-2.3,"vitesse":30.7},{"pente":-1.4,"vitesse":30.9},{"pente":-0.7,"vitesse":30.6},{"pente":0.2,"vitesse":31.0},{"pente":1.2,"vitesse":30.7},{"pente":2.4,"vitesse":30.9},
      {"pente":-5.1,"vitesse":29.9},{"pente":-3.9,"vitesse":29.7},{"pente":-3.3,"vitesse":30.1},{"pente":-2.7,"vitesse":29.8},{"pente":-2.0,"vitesse":30.0},{"pente":-1.2,"vitesse":29.7},{"pente":-0.4,"vitesse":30.1},{"pente":0.5,"vitesse":29.8},{"pente":1.6,"vitesse":30.0},{"pente":2.6,"vitesse":29.7},
      {"pente":-3.6,"vitesse":28.8},{"pente":-2.2,"vitesse":28.9},{"pente":-0.8,"vitesse":28.8},{"pente":0.9,"vitesse":28.9},{"pente":3.0,"vitesse":28.8},
      {"pente":-5.6,"vitesse":28.1},{"pente":-4.2,"vitesse":27.9},{"pente":-3.4,"vitesse":28.3},{"pente":-2.6,"vitesse":28.0},{"pente":-1.9,"vitesse":28.2},{"pente":-1.2,"vitesse":27.9},{"pente":-0.5,"vitesse":28.3},{"pente":0.3,"vitesse":28.0},{"pente":1.2,"vitesse":28.2},{"pente":2.2,"vitesse":27.9},{"pente":3.3,"vitesse":28.3},{"pente":4.1,"vitesse":28.0},
      {"pente":-4.8,"vitesse":27.2},{"pente":-3.1,"vitesse":27.4},{"pente":-1.6,"vitesse":27.3},{"pente":-0.1,"vitesse":27.4},{"pente":1.5,"vitesse":27.3},{"pente":3.5,"vitesse":27.4},
      {"pente":-5.3,"vitesse":26.3},{"pente":-4.4,"vitesse":26.1},{"pente":-3.6,"vitesse":26.5},{"pente":-2.8,"vitesse":26.2},{"pente":-2.1,"vitesse":26.4},{"pente":-1.3,"vitesse":26.1},{"pente":-0.5,"vitesse":26.5},{"pente":0.3,"vitesse":26.2},{"pente":1.1,"vitesse":26.4},{"pente":2.0,"vitesse":26.1},{"pente":2.9,"vitesse":26.5},{"pente":3.9,"vitesse":26.2},{"pente":4.9,"vitesse":26.4},
      {"pente":-4.1,"vitesse":25.2},{"pente":-1.7,"vitesse":25.5},{"pente":0.6,"vitesse":25.3},{"pente":3.3,"vitesse":25.6},
      {"pente":-5.6,"vitesse":24.5},{"pente":-3.7,"vitesse":24.7},{"pente":-2.1,"vitesse":24.6},{"pente":-0.6,"vitesse":24.7},{"pente":1.0,"vitesse":24.6},{"pente":2.7,"vitesse":24.7},{"pente":4.9,"vitesse":24.6},
      {"pente":-5.0,"vitesse":23.6},{"pente":-2.5,"vitesse":23.4},{"pente":1.4,"vitesse":23.8},{"pente":4.2,"vitesse":23.5},{"pente":5.5,"vitesse":23.8},
      {"pente":-6.0,"vitesse":22.7},{"pente":-4.2,"vitesse":22.9},{"pente":-1.5,"vitesse":22.8},{"pente":1.8,"vitesse":22.9},{"pente":5.0,"vitesse":22.8},{"pente":6.1,"vitesse":22.6},
      {"pente":3.8,"vitesse":29.0},{"pente":4.9,"vitesse":25.0},{"pente":5.5,"vitesse":22.7},{"pente":5.0,"vitesse":28.2},{"pente":6.3,"vitesse":20.7},{"pente":7.8,"vitesse":20.8},{"pente":8.2,"vitesse":19.5},{"pente":7.3,"vitesse":21.4},{"pente":6.7,"vitesse":18.6},{"pente":5.6,"vitesse":20.1},{"pente":4.8,"vitesse":21.1},{"pente":8.0,"vitesse":15.2},{"pente":7.6,"vitesse":15.6},{"pente":7.3,"vitesse":16.9},{"pente":5.3,"vitesse":18.4},{"pente":9.5,"vitesse":17.6},{"pente":10.3,"vitesse":14.2},{"pente":4.6,"vitesse":26.8},
      {"pente":-5.6,"vitesse":21.3},{"pente":-6.3,"vitesse":19.8},{"pente":-7.2,"vitesse":20.8},{"pente":-5.1,"vitesse":18.2},{"pente":-6.0,"vitesse":16.4},{"pente":-7.4,"vitesse":17.1},{"pente":-5.3,"vitesse":14.8},{"pente":-6.7,"vitesse":13.9},{"pente":-8.3,"vitesse":12.8},{"pente":-5.9,"vitesse":12.2},{"pente":-7.6,"vitesse":10.6},{"pente":-4.9,"vitesse":10.9},{"pente":-6.4,"vitesse":9.5},{"pente":-8.7,"vitesse":8.1},{"pente":-5.5,"vitesse":7.8},{"pente":-7.0,"vitesse":6.6},{"pente":-9.9,"vitesse":11.5},{"pente":-10.6,"vitesse":16.4},{"pente":-9.1,"vitesse":18.6},{"pente":-11.6,"vitesse":13.3},{"pente":-8.6,"vitesse":4.9},{"pente":-6.2,"vitesse":3.9},{"pente":-5.1,"vitesse":2.4},{"pente":-7.6,"vitesse":3.0},{"pente":-4.2,"vitesse":1.6},{"pente":-3.2,"vitesse":2.7},{"pente":-11.1,"vitesse":6.2},{"pente":-12.9,"vitesse":5.6},{"pente":-9.8,"vitesse":7.0},{"pente":-6.6,"vitesse":24.4},{"pente":-7.4,"vitesse":25.7},{"pente":-5.8,"vitesse":26.9},{"pente":-6.9,"vitesse":28.8},{"pente":-5.7,"vitesse":30.5},{"pente":-8.1,"vitesse":29.6},{"pente":-7.0,"vitesse":31.0},
      {"pente":5.2,"vitesse":6.2},{"pente":6.1,"vitesse":5.1},{"pente":7.0,"vitesse":6.7},{"pente":7.8,"vitesse":4.4},{"pente":8.4,"vitesse":6.0},{"pente":9.2,"vitesse":5.3},{"pente":10.0,"vitesse":6.6},{"pente":10.6,"vitesse":4.0},{"pente":11.0,"vitesse":6.0},{"pente":11.9,"vitesse":5.2},{"pente":12.6,"vitesse":4.6},{"pente":9.6,"vitesse":3.2},{"pente":8.8,"vitesse":2.4},{"pente":7.3,"vitesse":2.9},{"pente":6.4,"vitesse":1.8},{"pente":5.6,"vitesse":3.6},{"pente":4.8,"vitesse":2.5},{"pente":9.9,"vitesse":4.8},{"pente":10.8,"vitesse":2.9},{"pente":11.5,"vitesse":3.7},{"pente":12.8,"vitesse":2.3},{"pente":8.1,"vitesse":7.6},{"pente":6.8,"vitesse":8.4},{"pente":5.9,"vitesse":9.3},{"pente":7.5,"vitesse":5.6},{"pente":9.0,"vitesse":7.1},
      {"pente":-2.4,"vitesse":2.0},{"pente":-1.2,"vitesse":3.4},{"pente":0.2,"vitesse":2.6},{"pente":1.1,"vitesse":1.5},{"pente":2.0,"vitesse":4.2},{"pente":3.1,"vitesse":2.3},{"pente":3.9,"vitesse":3.5},{"pente":-0.4,"vitesse":5.2},{"pente":0.6,"vitesse":6.3},{"pente":-0.2,"vitesse":7.5},{"pente":0.9,"vitesse":8.6},{"pente":-0.7,"vitesse":9.8},{"pente":1.4,"vitesse":10.5},{"pente":2.6,"vitesse":5.6},{"pente":3.4,"vitesse":7.2},{"pente":-2.8,"vitesse":6.3},{"pente":-1.8,"vitesse":4.6},{"pente":-3.6,"vitesse":5.2},{"pente":-4.5,"vitesse":3.4},{"pente":1.7,"vitesse":12.2},{"pente":-1.5,"vitesse":11.6},{"pente":3.0,"vitesse":9.9},{"pente":4.1,"vitesse":5.0},{"pente":2.2,"vitesse":0.9},{"pente":-0.8,"vitesse":1.1},
      {"pente":0.4,"vitesse":14.3},{"pente":-1.9,"vitesse":16.7},{"pente":2.3,"vitesse":18.0},{"pente":-0.6,"vitesse":19.4},{"pente":1.2,"vitesse":20.8},{"pente":-2.9,"vitesse":13.2},{"pente":3.4,"vitesse":15.1},{"pente":-3.8,"vitesse":19.1},{"pente":0.9,"vitesse":16.0},{"pente":-1.3,"vitesse":21.1},{"pente":2.8,"vitesse":12.3},{"pente":-0.3,"vitesse":17.6}
    ]
  },
  "layer": [
    {
      "data": {"name": "bandes"},
      "mark": {"type": "rect", "fill": "#f2f2f2", "stroke": "#dcdcdc", "strokeWidth": 1},
      "encoding": {
        "y": {
          "field": "lo",
          "type": "quantitative",
          "scale": {"domain": [-2, 53], "nice": false, "zero": false},
          "axis": {
            "title": null,
            "offset": -320,
            "zindex": 1,
            "grid": false,
            "ticks": false,
            "labels": false,
            "domain": true,
            "domainColor": "#5a5a00"
          }
        },
        "y2": {"field": "hi"}
      }
    },
    {
      "data": {"name": "bleu"},
      "mark": {
        "type": "point",
        "shape": "M-1,-0.33H-0.33V-1H0.33V-0.33H1V0.33H0.33V1H-0.33V0.33H-1Z",
        "filled": true,
        "fill": "#3c87d6",
        "strokeWidth": 0,
        "size": 24,
        "opacity": 1
      },
      "encoding": {
        "x": {
          "field": "pente",
          "type": "quantitative",
          "scale": {"domain": [-40, 40], "nice": false, "zero": false},
          "axis": {
            "title": "Pente [%]",
            "values": [-40, -35, -30, -25, -20, -15, -10, -5, 0, 5, 10, 15, 20, 25, 30, 35, 40],
            "grid": false,
            "domain": false,
            "ticks": false,
            "labelFlush": false,
            "labelOverlap": false,
            "labelPadding": 8,
            "titleAnchor": "end",
            "titlePadding": 6
          }
        },
        "y": {
          "field": "vitesse",
          "type": "quantitative",
          "scale": {"domain": [-2, 53], "nice": false, "zero": false},
          "axis": {
            "title": null,
            "offset": -320,
            "zindex": 1,
            "grid": false,
            "ticks": false,
            "labels": false,
            "domain": true,
            "domainColor": "#5a5a00"
          }
        }
      }
    },
    {
      "data": {"name": "olive"},
      "mark": {
        "type": "point",
        "shape": "M-1,-0.33H-0.33V-1H0.33V-0.33H1V0.33H0.33V1H-0.33V0.33H-1Z",
        "filled": true,
        "fill": "#c8c800",
        "stroke": "#5a5a00",
        "strokeWidth": 1,
        "size": 14,
        "opacity": 1
      },
      "encoding": {
        "x": {"field": "pente", "type": "quantitative"},
        "y": {"field": "vitesse", "type": "quantitative"}
      }
    },
    {
      "data": {"name": "graduations"},
      "mark": {
        "type": "text",
        "align": "right",
        "baseline": "middle",
        "dx": -5,
        "fontSize": 10,
        "color": "white",
        "stroke": "white",
        "strokeWidth": 2.5,
        "strokeOpacity": 0.6,
        "opacity": 0.6
      },
      "encoding": {
        "x": {"datum": 0},
        "y": {"field": "valeur", "type": "quantitative"},
        "text": {"field": "texte"}
      }
    },
    {
      "data": {"name": "graduations"},
      "mark": {
        "type": "text",
        "align": "right",
        "baseline": "middle",
        "dx": -5,
        "fontSize": 10,
        "color": "#6b6b40"
      },
      "encoding": {
        "x": {"datum": 0},
        "y": {"field": "valeur", "type": "quantitative"},
        "text": {"field": "texte"}
      }
    },
    {
      "data": {"name": "titreY"},
      "mark": {
        "type": "text",
        "angle": 270,
        "align": "center",
        "baseline": "middle",
        "fontSize": 11,
        "color": "white",
        "stroke": "white",
        "strokeWidth": 2.5,
        "strokeOpacity": 0.5,
        "opacity": 0.5
      },
      "encoding": {
        "x": {"datum": -4.1},
        "y": {"datum": 25},
        "text": {"field": "titre"}
      }
    },
    {
      "data": {"name": "titreY"},
      "mark": {
        "type": "text",
        "angle": 270,
        "align": "center",
        "baseline": "middle",
        "fontSize": 11,
        "color": "#6b6b40"
      },
      "encoding": {
        "x": {"datum": -4.1},
        "y": {"datum": 25},
        "text": {"field": "titre"}
      }
    }
  ],
  "config": {
    "font": "DejaVu Sans",
    "view": {"stroke": "#d4d4d4", "fill": "white"},
    "axisY": {"zindex": 1},
    "axis": {
      "labelColor": "#66662a",
      "labelFontSize": 10,
      "titleColor": "#5e5e1e",
      "titleFontSize": 11,
      "titleFontWeight": "normal"
    }
  }
}
